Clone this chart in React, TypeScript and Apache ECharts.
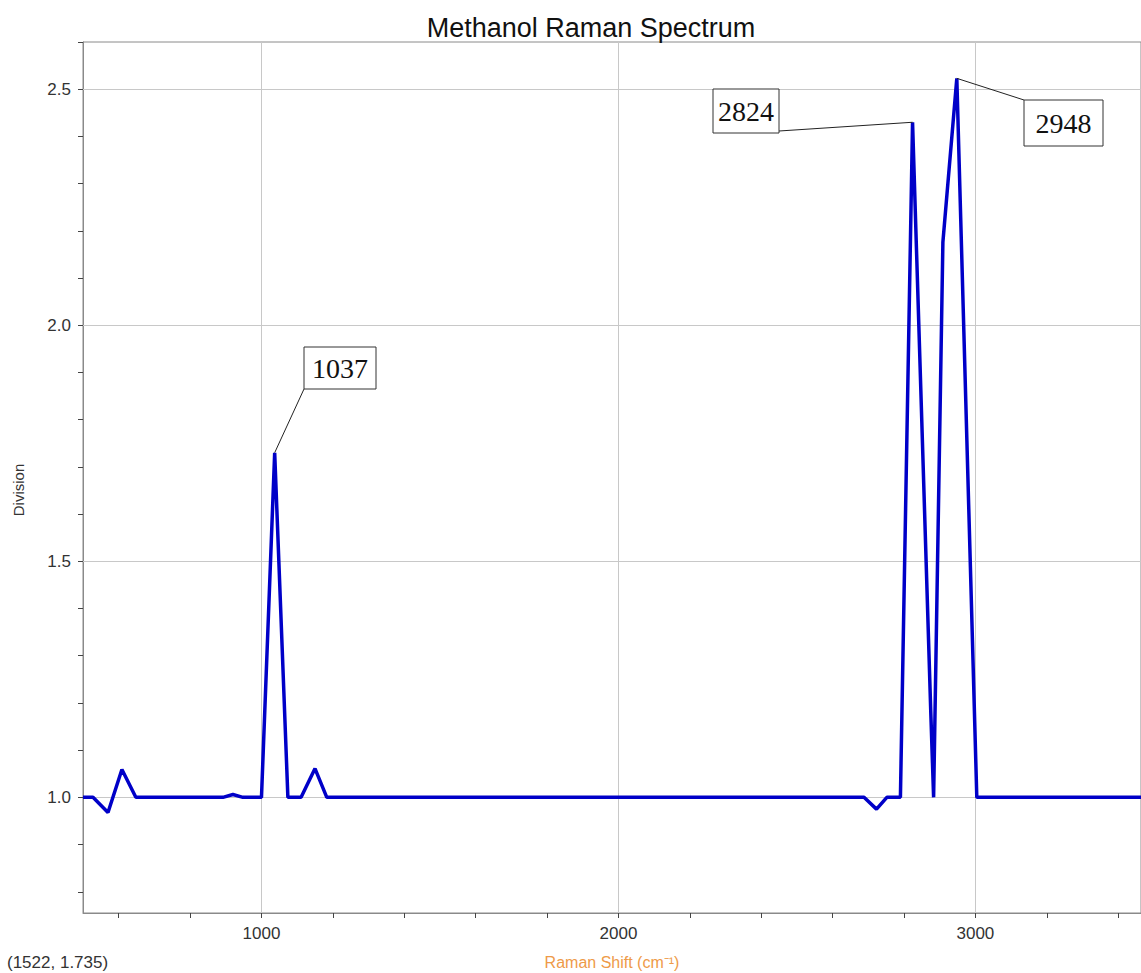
import React, { useEffect, useRef } from "react";
import * as echarts from "echarts";

// Raman shift (cm^-1) and detector division values
const shiftValues = [500, 528, 570, 609, 648, 892, 920, 948, 1000, 1037, 1074, 1111, 1150, 1183, 2688, 2723, 2752, 2790, 2824, 2875, 2883, 2909, 2948, 3004, 3500];
const divisionValues = [1.0, 1.0, 0.968, 1.059, 1.0, 1.0, 1.006, 1.0, 1.0, 1.73, 1.0, 1.0, 1.061, 1.0, 1.0, 0.975, 1.0, 1.0, 2.43, 1.182, 1.0, 2.176, 2.523, 1.0, 1.0];

const xTickValues = [600, 800, 1000, 1200, 1400, 1600, 1800, 2000, 2200, 2400, 2600, 2800, 3000, 3200, 3400];
const xLabelValues = [1000, 2000, 3000];
const yTickValues = [0.8, 0.9, 1.0, 1.1, 1.2, 1.3, 1.4, 1.5, 1.6, 1.7, 1.8, 1.9, 2.0, 2.1, 2.2, 2.3, 2.4, 2.5, 2.6];
const yLabelValues = [1.0, 1.5, 2.0, 2.5];

const peakLabels = [1037, 2824, 2948];

const titleText = "Methanol Raman Spectrum";
const xAxisTitle = "Raman Shift (cm\u207B\u00B9)";
const yAxisTitle = "Division";
const cursorText = "(1522, 1.735)";

const SANS = "'Liberation Sans', Arial, sans-serif";
const SERIF = "'Liberation Serif', 'Times New Roman', serif";

// annotation box layout (pixels): box rect and the corner the leader starts at
const boxLayout = [
  { x: 304, y: 347, w: 72, h: 42, ax: 304, ay: 389 },
  { x: 713, y: 89, w: 66, h: 44, ax: 779, ay: 131 },
  { x: 1024, y: 100, w: 79, h: 46, ax: 1024, ay: 100 },
];

export default function App() {
  const ref = useRef<HTMLDivElement>(null);

  useEffect(() => {
    if (!ref.current) return;
    const chart = echarts.init(ref.current, undefined, { renderer: "svg" });
    const data = shiftValues.map((x, i) => [x, divisionValues[i]]);

    chart.setOption({
      animation: false,
      backgroundColor: "#ffffff",
      grid: {
        left: 83,
        top: 42,
        right: 0,
        bottom: 60,
        show: true,
        borderColor: "#8a8a8a",
        borderWidth: 1,
        backgroundColor: "transparent",
      },
      xAxis: {
        type: "value",
        min: 500,
        max: 3464,
        axisLine: { show: true, onZero: false, lineStyle: { color: "#8a8a8a", width: 1 } },
        axisTick: { show: true, length: 5, customValues: xTickValues, lineStyle: { color: "#444" } },
        axisLabel: {
          customValues: xLabelValues,
          margin: 12,
          color: "#333",
          fontSize: 17,
          fontFamily: SANS,
          formatter: (v: number) => String(v),
        },
        splitLine: { show: false },
      },
      yAxis: {
        type: "value",
        min: 0.755,
        max: 2.6,
        axisLine: { show: true, onZero: false, lineStyle: { color: "#8a8a8a", width: 1 } },
        axisTick: { show: true, length: 5, customValues: yTickValues, lineStyle: { color: "#444" } },
        axisLabel: {
          customValues: yLabelValues,
          margin: 12,
          color: "#333",
          fontSize: 17,
          fontFamily: SANS,
          formatter: (v: number) => v.toFixed(1),
        },
        splitLine: { show: false },
      },
      series: [
        {
          type: "line",
          data: [],
          silent: true,
          z: 1,
          markLine: {
            silent: true,
            z: 1,
            symbol: "none",
            label: { show: false },
            lineStyle: { color: "#c8c8c8", width: 1, type: "solid" },
            data: [
              ...xLabelValues.map((v) => ({ xAxis: v })),
              ...yLabelValues.map((v) => ({ yAxis: v })),
            ],
          },
        },
        {
          type: "line",
          data,
          showSymbol: false,
          symbol: "none",
          lineStyle: { color: "#0000c8", width: 3.5 },
          z: 8,
        },
      ],
    });

    const graphics: any[] = [
      {
        type: "text",
        x: 591,
        y: 28,
        style: { text: titleText, fill: "#111", font: `27px ${SANS}`, textAlign: "center", textVerticalAlign: "middle" },
      },
      {
        type: "text",
        x: 612,
        y: 962,
        style: { text: xAxisTitle, fill: "#ee9a48", font: `16px ${SANS}`, textAlign: "center", textVerticalAlign: "middle" },
      },
      {
        type: "text",
        x: 18,
        y: 490,
        rotation: Math.PI / 2,
        style: { text: yAxisTitle, fill: "#333", font: `15px ${SANS}`, textAlign: "center", textVerticalAlign: "middle" },
      },
      {
        type: "text",
        x: 7,
        y: 962,
        style: { text: cursorText, fill: "#333", font: `17px ${SANS}`, textAlign: "left", textVerticalAlign: "middle" },
      },
    ];

    peakLabels.forEach((p, i) => {
      const idx = shiftValues.indexOf(p);
      const pt = chart.convertToPixel({ gridIndex: 0 }, [shiftValues[idx], divisionValues[idx]]) as number[];
      const b = boxLayout[i];
      graphics.push({
        type: "line",
        shape: { x1: b.ax, y1: b.ay, x2: pt[0], y2: pt[1] },
        style: { stroke: "#222", lineWidth: 1 },
        z: 10,
      });
      graphics.push({
        type: "rect",
        shape: { x: b.x, y: b.y, width: b.w, height: b.h },
        style: { fill: "#fff", stroke: "#333", lineWidth: 1 },
        z: 11,
      });
      graphics.push({
        type: "text",
        x: b.x + b.w / 2,
        y: b.y + b.h / 2,
        style: { text: String(p), fill: "#111", font: `28px ${SERIF}`, textAlign: "center", textVerticalAlign: "middle" },
        z: 12,
      });
    });

    chart.setOption({ graphic: graphics });

    return () => chart.dispose();
  }, []);

  return (
    <div
      ref={ref}
      style={{ position: "fixed", left: 0, top: 0, width: 1141, height: 973, background: "#fff" }}
    />
  );
}
